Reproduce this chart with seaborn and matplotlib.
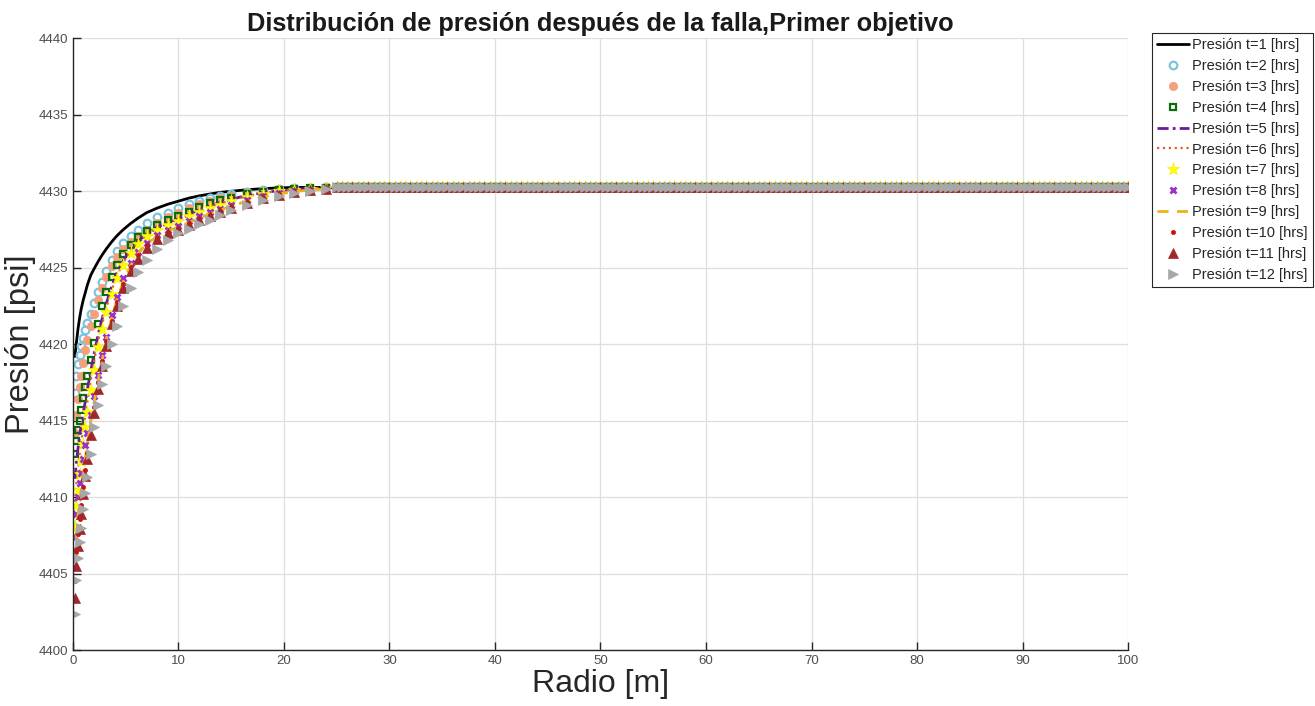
import numpy as np
import pandas as pd
import seaborn as sns
import matplotlib
matplotlib.use("Agg")
import matplotlib.pyplot as plt

# radios (m) del tramo con pendiente
R_RISE = [0.2, 0.35, 0.5, 0.65, 0.8, 1.0, 1.2, 1.4, 1.7, 2.0, 2.4, 2.8, 3.2, 3.7,
          4.2, 4.8, 5.5, 6.2, 7.0, 8.0, 9.0, 10, 11, 12, 13, 14, 15, 16.5, 18,
          19.5, 21, 22.5, 24]

# presiones leidas (psi) para cada tiempo
P_T1 = [4419.2, 4420.1, 4421.0, 4421.7, 4422.3, 4422.9, 4423.4, 4423.9, 4424.5, 4424.9,
        4425.4, 4425.85, 4426.25, 4426.7, 4427.1, 4427.5, 4427.9, 4428.25, 4428.6, 4428.9,
        4429.15, 4429.35, 4429.55, 4429.7, 4429.82, 4429.93, 4430.0, 4430.1, 4430.17,
        4430.22, 4430.25, 4430.25, 4430.25]
P_T2 = [4416.8, 4417.9, 4418.7, 4419.3, 4419.9, 4420.4, 4420.9, 4421.4, 4422.0, 4422.7,
        4423.4, 4424.1, 4424.8, 4425.5, 4426.1, 4426.6, 4427.1, 4427.5, 4427.9, 4428.3,
        4428.6, 4428.9, 4429.15, 4429.35, 4429.55, 4429.7, 4429.82, 4429.97, 4430.08,
        4430.16, 4430.21, 4430.24, 4430.25]
P_T3 = [4414.2, 4415.4, 4416.4, 4417.2, 4417.9, 4418.8, 4419.6, 4420.3, 4421.2, 4422.0,
        4422.9, 4423.7, 4424.4, 4425.1, 4425.7, 4426.2, 4426.7, 4427.1, 4427.5, 4427.95,
        4428.3, 4428.6, 4428.9, 4429.15, 4429.35, 4429.55, 4429.7, 4429.88, 4430.02,
        4430.12, 4430.18, 4430.22, 4430.25]
P_T4 = [4412.8, 4413.7, 4414.4, 4415.0, 4415.7, 4416.5, 4417.2, 4417.9, 4419.0, 4420.1,
        4421.3, 4422.5, 4423.4, 4424.4, 4425.2, 4425.9, 4426.5, 4427.0, 4427.4, 4427.8,
        4428.1, 4428.35, 4428.65, 4428.95, 4429.2, 4429.4, 4429.58, 4429.8, 4429.96,
        4430.08, 4430.16, 4430.21, 4430.24]
P_T5 = [4411.2, 4412.3, 4413.2, 4414.0, 4414.7, 4415.5, 4416.3, 4417.1, 4418.2, 4419.3,
        4420.6, 4421.7, 4422.7, 4423.8, 4424.7, 4425.5, 4426.2, 4426.75, 4427.2, 4427.65,
        4427.95, 4428.2, 4428.5, 4428.8, 4429.05, 4429.28, 4429.48, 4429.72, 4429.9,
        4430.04, 4430.13, 4430.19, 4430.23]
P_T6 = [4409.7, 4410.9, 4411.9, 4412.8, 4413.6, 4414.5, 4415.4, 4416.3, 4417.6, 4418.8,
        4420.2, 4421.35, 4422.4, 4423.55, 4424.5, 4425.35, 4426.07, 4426.65, 4427.12, 4427.57,
        4427.87, 4428.12, 4428.42, 4428.72, 4428.98, 4429.2, 4429.42, 4429.67, 4429.87,
        4430.02, 4430.12, 4430.18, 4430.22]
P_T7 = [4408.1, 4409.4, 4410.5, 4411.5, 4412.4, 4413.5, 4414.6, 4415.6, 4417.0, 4418.3,
        4419.8, 4421.0, 4422.1, 4423.3, 4424.3, 4425.2, 4425.95, 4426.55, 4427.05, 4427.5,
        4427.8, 4428.05, 4428.35, 4428.63, 4428.9, 4429.13, 4429.35, 4429.62, 4429.83,
        4429.99, 4430.1, 4430.17, 4430.22]
P_T8 = [4407.4, 4408.9, 4410.0, 4410.9, 4411.6, 4412.5, 4413.4, 4414.2, 4415.4, 4416.6,
        4418.0, 4419.3, 4420.5, 4421.9, 4423.1, 4424.3, 4425.3, 4426.05, 4426.65, 4427.15,
        4427.5, 4427.75, 4428.05, 4428.35, 4428.62, 4428.87, 4429.1, 4429.42, 4429.67,
        4429.86, 4430.0, 4430.1, 4430.17]
P_T9 = [4406.0, 4407.6, 4408.8, 4409.7, 4410.5, 4411.6, 4412.6, 4413.5, 4414.9, 4416.1,
        4417.6, 4419.0, 4420.35, 4421.75, 4422.95, 4424.1, 4425.15, 4425.95, 4426.55, 4427.05,
        4427.42, 4427.65, 4427.95, 4428.25, 4428.53, 4428.78, 4429.03, 4429.35, 4429.62,
        4429.82, 4429.98, 4430.08, 4430.15]
P_T10 = [4404.5, 4406.4, 4407.6, 4408.6, 4409.5, 4410.7, 4411.8, 4412.9, 4414.5, 4415.9,
         4417.5, 4418.9, 4420.2, 4421.55, 4422.75, 4423.95, 4425.05, 4425.85, 4426.5, 4427.0,
         4427.35, 4427.6, 4427.9, 4428.2, 4428.48, 4428.72, 4428.97, 4429.3, 4429.58,
         4429.8, 4429.97, 4430.07, 4430.15]
P_T11 = [4403.4, 4405.5, 4406.8, 4407.9, 4408.9, 4410.2, 4411.4, 4412.5, 4414.1, 4415.5,
         4417.1, 4418.6, 4419.9, 4421.3, 4422.5, 4423.7, 4424.8, 4425.6, 4426.3, 4426.85,
         4427.25, 4427.5, 4427.8, 4428.1, 4428.4, 4428.65, 4428.9, 4429.25, 4429.55,
         4429.78, 4429.95, 4430.06, 4430.14]
P_T12 = [4402.4, 4404.6, 4406.0, 4407.1, 4408.0, 4409.2, 4410.3, 4411.3, 4412.8, 4414.6,
         4416.0, 4417.4, 4418.6, 4420.0, 4421.2, 4422.5, 4423.7, 4424.7, 4425.5, 4426.25,
         4426.8, 4427.25, 4427.55, 4427.85, 4428.15, 4428.45, 4428.75, 4429.1, 4429.45,
         4429.7, 4429.9, 4430.03, 4430.12]

# tramo plano: presion inicial del yacimiento
R_FLAT = list(np.arange(25.0, 100.01, 0.5))
P_FLAT = 4430.25

SERIES = [P_T1, P_T2, P_T3, P_T4, P_T5, P_T6, P_T7, P_T8, P_T9, P_T10, P_T11, P_T12]
LABELS = [f"Presión t={i} [hrs]" for i in range(1, 13)]

# estilo de cada curva (linea o marcador)
STYLES = [
    dict(color="black", linestyle="-", linewidth=2.0, marker=None),
    dict(color="#7EC3DE", linestyle="none", marker="o", markersize=5.5, markerfacecolor="none",
         markeredgecolor="#7EC3DE", markeredgewidth=1.6),
    dict(color="#F4A07C", linestyle="none", marker="o", markersize=6, markerfacecolor="#F4A07C",
         markeredgecolor="#F4A07C", markeredgewidth=0.5),
    dict(color="#0B6E0B", linestyle="none", marker="s", markersize=4.8, markerfacecolor="none",
         markeredgecolor="#0B6E0B", markeredgewidth=1.6),
    dict(color="#6A1B9A", linestyle=(0, (4, 1.5, 1, 1.5)), linewidth=2.0, marker=None),
    dict(color="#E0602A", linestyle=":", linewidth=1.6, marker=None),
    dict(color="#FFFF00", linestyle="none", marker="*", markersize=9.5, markerfacecolor="#FFFF00",
         markeredgecolor="#F2F200", markeredgewidth=0.5),
    dict(color="#9B30D0", linestyle="none", marker="x", markersize=4.5, markeredgecolor="#9B30D0",
         markeredgewidth=2.0),
    dict(color="#EDB120", linestyle=(0, (4, 3)), linewidth=2.0, marker=None),
    dict(color="#D01010", linestyle="none", marker="o", markersize=3, markerfacecolor="#D01010",
         markeredgecolor="#D01010", markeredgewidth=0.5),
    dict(color="#A0282A", linestyle="none", marker="^", markersize=7, markerfacecolor="#A0282A",
         markeredgecolor="#A0282A", markeredgewidth=0.5),
    dict(color="#A8A8A8", linestyle="none", marker=">", markersize=7, markerfacecolor="#A8A8A8",
         markeredgecolor="#A8A8A8", markeredgewidth=0.5),
]

sns.set_theme(style="white")
plt.rcParams["font.family"] = ["Liberation Sans", "DejaVu Sans"]
plt.rcParams["axes.unicode_minus"] = False

fig = plt.figure(figsize=(13.15, 7.06), dpi=100)
ax = fig.add_axes([0.0553, 0.079, 0.8027, 0.8668])

radius = R_RISE + R_FLAT
for vals, lab, st in zip(SERIES, LABELS, STYLES):
    df = pd.DataFrame({"r": radius, "p": vals + [P_FLAT] * len(R_FLAT)})
    sns.lineplot(data=df, x="r", y="p", ax=ax, label=lab, estimator=None, sort=False,
                 legend=False, **st)

ax.set_xlim(0, 100)
ax.set_ylim(4400, 4440)
ax.set_xticks(np.arange(0, 101, 10))
ax.set_yticks(np.arange(4400, 4441, 5))
ax.grid(True, color="#DEDEDE", linewidth=0.9)
ax.set_axisbelow(True)
ax.tick_params(direction="in", length=6, width=1, colors="#262626", labelcolor="#4D4D4D",
               labelsize=9.5, bottom=True, left=True)
for side in ["top", "right"]:
    ax.spines[side].set_visible(False)
for side in ["left", "bottom"]:
    ax.spines[side].set_color("#262626")
    ax.spines[side].set_linewidth(1.0)

ax.set_xlabel("Radio [m]", fontsize=23, color="#262626")
ax.set_ylabel("Presión [psi]", fontsize=23.5, color="#262626")
ax.xaxis.set_label_coords(0.5, -0.031)
ax.yaxis.set_label_coords(-0.035, 0.5)
ax.set_title("Distribución de presión después de la falla,Primer objetivo",
             fontsize=18.3, fontweight="bold", color="#1A1A1A", pad=5)

handles, labels = ax.get_legend_handles_labels()
leg = fig.legend(handles, labels, loc="upper left", bbox_to_anchor=(0.876, 0.953),
                 fontsize=10.5, frameon=True, fancybox=False, framealpha=1,
                 edgecolor="#262626", borderpad=0.35, labelspacing=0.47,
                 handlelength=2.2, handletextpad=0.2, borderaxespad=0)
leg.get_frame().set_linewidth(0.8)

fig.savefig("out.png", dpi=100)
